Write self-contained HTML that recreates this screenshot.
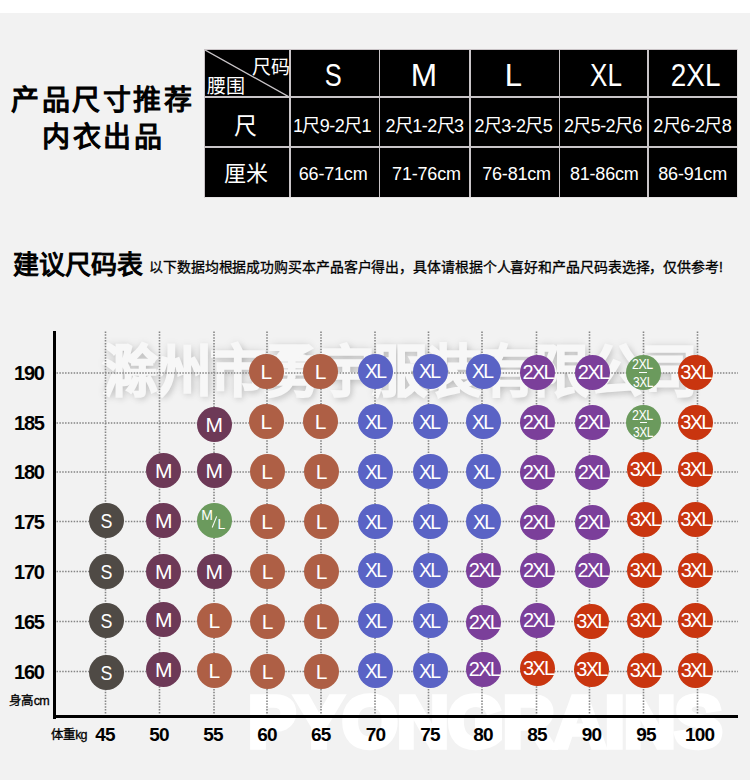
<!DOCTYPE html>
<html lang="zh-CN"><head><meta charset="utf-8">
<style>
*{margin:0;padding:0;box-sizing:border-box}
html,body{width:750px;height:780px;overflow:hidden}
body{position:relative;background:#f2f2f2;font-family:"Liberation Sans",sans-serif;color:#000}
.top{position:absolute;left:0;top:0;width:750px;height:13px;background:#fff}
.abs{position:absolute;white-space:nowrap}
.t1l{position:absolute;font-size:28px;font-weight:400;line-height:30px;letter-spacing:2.5px;white-space:nowrap;-webkit-text-stroke:1.2px #000}
.tbl{position:absolute;left:204px;top:49px;width:534px;height:149px;background:#000;border:1px solid #c9c3c6;border-right-color:#e6e3e4;border-bottom-color:#e6e3e4}
.tv{position:absolute;top:0;bottom:0;width:1.3px;background:#c9c5c8}
.th{position:absolute;left:0;right:0;height:1.3px;background:#c9c5c8}
.tc{position:absolute;color:#fff;text-align:center;white-space:nowrap}
.sz{top:2px;height:47px;line-height:47px;font-size:31px}
.sz span{display:inline-block}
.ch{top:51px;height:50px;line-height:50px;font-size:18px;letter-spacing:-0.6px}
.cmv{top:98.5px;height:50px;line-height:50px;font-size:18px;letter-spacing:-0.2px}
.hd1{position:absolute;color:#fff;font-size:19px;line-height:20px}
.sec{position:absolute;left:13px;top:250px;font-size:26px;font-weight:400;line-height:30px;white-space:nowrap;-webkit-text-stroke:1.1px #000}
.sub{position:absolute;left:149px;top:258px;font-size:13.9px;letter-spacing:-0.1px;line-height:18px;white-space:nowrap;-webkit-text-stroke:0.3px #000}
.yaxis{position:absolute;left:53px;top:331px;width:3px;height:388px;background:#000}
.xaxis{position:absolute;left:53px;top:715px;width:685px;height:3px;background:#000}
.grid line{stroke:#858585;stroke-width:1.6;stroke-dasharray:1.5 1.36}
.vg{position:absolute;top:331.5px;height:382px;width:1.8px;background:repeating-linear-gradient(to bottom,#8f8f8f 0,#8f8f8f 1.5px,transparent 1.5px,transparent 2.9px)}
.hg{position:absolute;left:56px;width:682px;height:1.8px;background:repeating-linear-gradient(to right,#8f8f8f 0,#8f8f8f 1.5px,transparent 1.5px,transparent 2.9px)}
.yl{position:absolute;left:0;width:43.8px;text-align:right;font-size:20px;font-weight:700;line-height:22px;letter-spacing:-1.2px}
.xl{position:absolute;top:724px;width:60px;text-align:center;font-size:19px;font-weight:700;line-height:22px;letter-spacing:-0.8px}
.c{position:absolute;width:35px;height:35px;border-radius:50%;color:#fff;text-align:center}
.c span{position:absolute;left:0;right:0;white-space:nowrap}
.t1{top:0px;line-height:35px;font-size:21px}
.ts{transform:scaleX(0.85)}
.t2{top:-0.3px;left:-1.5px!important;line-height:35px;font-size:21px;letter-spacing:-1.8px;transform:scaleX(0.92)}
.t3{top:0px;left:1px!important;line-height:35px;font-size:20px;letter-spacing:-1.7px}
.wm1{position:absolute;left:101.5px;top:331.5px;font-size:56px;line-height:80px;color:#f7f7f7;letter-spacing:-2px;white-space:nowrap;-webkit-text-stroke:3.5px #f7f7f7;text-shadow:0 0 10px rgba(0,0,0,0.2),2px 3px 7px rgba(0,0,0,0.22)}
.wm2{position:absolute;left:248px;top:677px;font-size:73px;font-weight:700;line-height:90px;color:#fff;white-space:nowrap;letter-spacing:-1px;-webkit-text-stroke:5.5px #fff;transform-origin:0 0;transform:scaleX(0.985)}
</style><style>
.c b{position:absolute;font-weight:400;white-space:nowrap;text-align:left}
.c .d1{left:6.3px;top:2.7px;font-size:14.5px;line-height:15px;letter-spacing:-0.6px;transform-origin:0 0;transform:scaleX(0.86)}
.c .dl{left:13.8px;top:17.2px;width:7.3px;height:1.2px;background:#fff}
.c .d2{left:7.2px;top:20.4px;font-size:14.5px;line-height:15px;letter-spacing:-0.6px;transform-origin:0 0;transform:scaleX(0.83)}
.c .m1{left:4.5px;top:5.5px;font-size:14px;line-height:14px}
.c .m2{left:17px;top:12.8px;width:1.2px;height:11.7px;background:#fff;transform:rotate(22deg)}
.c .m3{left:20.7px;top:14.7px;font-size:14px;line-height:14px}
</style></head><body>
<div class="top"></div>
<div class="t1l" style="left:11px;top:86px">产品尺寸推荐</div>
<div class="t1l" style="left:42px;top:123px">内衣出品</div>
<div class="tbl">
<svg style="position:absolute;left:0;top:0" width="86" height="48"><line x1="0" y1="0" x2="86" y2="48" stroke="#c9c5c8" stroke-width="1.3"/></svg>
<div class="tv" style="left:84.4px"></div>
<div class="tv" style="left:173.9px"></div>
<div class="tv" style="left:264.4px"></div>
<div class="tv" style="left:353.9px"></div>
<div class="tv" style="left:442.4px"></div>
<div class="th" style="top:46.4px"></div>
<div class="th" style="top:96.4px"></div>
<div class="tc sz" style="left:83.5px;width:89.5px"><span style="transform:scaleX(0.82)">S</span></div>
<div class="tc ch" style="left:82.2px;width:89.5px">1尺9-2尺1</div>
<div class="tc cmv" style="left:83.4px;width:89.5px">66-71cm</div>
<div class="tc sz" style="left:173.5px;width:90.5px"><span style="transform:scaleX(1.02)">M</span></div>
<div class="tc ch" style="left:174.2px;width:90.5px">2尺1-2尺3</div>
<div class="tc cmv" style="left:176.2px;width:90.5px">71-76cm</div>
<div class="tc sz" style="left:263.5px;width:89.5px"><span style="transform:scaleX(1)">L</span></div>
<div class="tc ch" style="left:263.6px;width:89.5px">2尺3-2尺5</div>
<div class="tc cmv" style="left:266.8px;width:89.5px">76-81cm</div>
<div class="tc sz" style="left:356.5px;width:88.5px"><span style="transform:scaleX(0.84)">XL</span></div>
<div class="tc ch" style="left:353.6px;width:88.5px">2尺5-2尺6</div>
<div class="tc cmv" style="left:355.0px;width:88.5px">81-86cm</div>
<div class="tc sz" style="left:446.0px;width:89.5px"><span style="transform:scaleX(0.9)">2XL</span></div>
<div class="tc ch" style="left:442.5px;width:89.5px">2尺6-2尺8</div>
<div class="tc cmv" style="left:442.9px;width:89.5px">86-91cm</div>
<div class="hd1" style="left:47px;top:8px">尺码</div>
<div class="hd1" style="left:2px;top:26.5px">腰围</div>
<div class="tc" style="left:-2.5px;width:86px;top:51px;height:50px;line-height:50px;font-size:23px">尺</div>
<div class="tc" style="left:-2px;width:86px;top:99px;height:50px;line-height:50px;font-size:22px">厘米</div>
</div>
<div class="sec">建议尺码表</div>
<div class="sub">以下数据均根据成功购买本产品客户得出，具体请根据个人喜好和产品尺码表选择，仅供参考!</div>
<div class="wm1">滁州市勇宇服装有限公司</div>
<div class="wm2">PYONGRAINS</div>
<svg class="grid" width="750" height="780" style="position:absolute;left:0;top:0"><line x1="105.50" y1="331.5" x2="105.50" y2="713.5" /><line x1="159.50" y1="331.5" x2="159.50" y2="713.5" /><line x1="214.00" y1="331.5" x2="214.00" y2="713.5" /><line x1="267.00" y1="331.5" x2="267.00" y2="713.5" /><line x1="321.00" y1="331.5" x2="321.00" y2="713.5" /><line x1="375.00" y1="331.5" x2="375.00" y2="713.5" /><line x1="428.50" y1="331.5" x2="428.50" y2="713.5" /><line x1="482.00" y1="331.5" x2="482.00" y2="713.5" /><line x1="536.50" y1="331.5" x2="536.50" y2="713.5" /><line x1="589.50" y1="331.5" x2="589.50" y2="713.5" /><line x1="643.50" y1="331.5" x2="643.50" y2="713.5" /><line x1="697.50" y1="331.5" x2="697.50" y2="713.5" /><line x1="56.5" y1="373.00" x2="738" y2="373.00" /><line x1="56.5" y1="423.00" x2="738" y2="423.00" /><line x1="56.5" y1="472.00" x2="738" y2="472.00" /><line x1="56.5" y1="521.50" x2="738" y2="521.50" /><line x1="56.5" y1="571.50" x2="738" y2="571.50" /><line x1="56.5" y1="621.50" x2="738" y2="621.50" /><line x1="56.5" y1="671.50" x2="738" y2="671.50" /></svg>
<div class="yaxis"></div>
<div class="xaxis"></div>
<div class="yl" style="top:362.0px">190</div>
<div class="yl" style="top:412.0px">185</div>
<div class="yl" style="top:461.0px">180</div>
<div class="yl" style="top:510.5px">175</div>
<div class="yl" style="top:560.5px">170</div>
<div class="yl" style="top:610.5px">165</div>
<div class="yl" style="top:660.5px">160</div>
<div class="abs" style="left:9.3px;top:692.5px;font-size:12.5px;line-height:16px;letter-spacing:-0.8px;-webkit-text-stroke:0.3px #000">身高cm</div>
<div class="abs" style="left:51px;top:727px;font-size:12.5px;line-height:16px;letter-spacing:-0.9px;-webkit-text-stroke:0.3px #000">体重kg</div>
<div class="xl" style="left:75.0px">45</div>
<div class="xl" style="left:129.0px">50</div>
<div class="xl" style="left:183.0px">55</div>
<div class="xl" style="left:237.0px">60</div>
<div class="xl" style="left:290.8px">65</div>
<div class="xl" style="left:345.5px">70</div>
<div class="xl" style="left:400.0px">75</div>
<div class="xl" style="left:453.0px">80</div>
<div class="xl" style="left:507.0px">85</div>
<div class="xl" style="left:561.5px">90</div>
<div class="xl" style="left:616.0px">95</div>
<div class="xl" style="left:669.7px">100</div>
<div class="c" style="left:248.9px;top:353.9px;background:#ae5f45"><span class="t1">L</span></div>
<div class="c" style="left:303.0px;top:353.7px;background:#ae5f45"><span class="t1">L</span></div>
<div class="c" style="left:358.2px;top:353.7px;background:#5a63c5"><span class="t2">XL</span></div>
<div class="c" style="left:412.8px;top:353.7px;background:#5a63c5"><span class="t2">XL</span></div>
<div class="c" style="left:465.7px;top:353.7px;background:#5a63c5"><span class="t2">XL</span></div>
<div class="c" style="left:519.8px;top:354.5px;background:#7b3f9a"><span class="t3">2XL</span></div>
<div class="c" style="left:575.0px;top:354.5px;background:#7b3f9a"><span class="t3">2XL</span></div>
<div class="c" style="left:625.6px;top:354.7px;background:#6b9a5d"><b class="d1">2XL</b><b class="dl"></b><b class="d2">3XL</b></div>
<div class="c" style="left:677.5px;top:354.9px;background:#c9350f"><span class="t3">3XL</span></div>
<div class="c" style="left:196.8px;top:406.8px;background:#6d3957"><span class="t1">M</span></div>
<div class="c" style="left:248.8px;top:404.2px;background:#ae5f45"><span class="t1">L</span></div>
<div class="c" style="left:303.0px;top:403.8px;background:#ae5f45"><span class="t1">L</span></div>
<div class="c" style="left:358.2px;top:403.8px;background:#5a63c5"><span class="t2">XL</span></div>
<div class="c" style="left:412.8px;top:403.8px;background:#5a63c5"><span class="t2">XL</span></div>
<div class="c" style="left:465.9px;top:404.4px;background:#5a63c5"><span class="t2">XL</span></div>
<div class="c" style="left:520.0px;top:405.2px;background:#7b3f9a"><span class="t3">2XL</span></div>
<div class="c" style="left:575.0px;top:405.2px;background:#7b3f9a"><span class="t3">2XL</span></div>
<div class="c" style="left:625.8px;top:405.0px;background:#6b9a5d"><b class="d1">2XL</b><b class="dl"></b><b class="d2">3XL</b></div>
<div class="c" style="left:677.5px;top:404.8px;background:#c9350f"><span class="t3">3XL</span></div>
<div class="c" style="left:146.2px;top:453.0px;background:#6d3957"><span class="t1">M</span></div>
<div class="c" style="left:196.8px;top:453.0px;background:#6d3957"><span class="t1">M</span></div>
<div class="c" style="left:249.6px;top:454.1px;background:#ae5f45"><span class="t1">L</span></div>
<div class="c" style="left:304.0px;top:454.0px;background:#ae5f45"><span class="t1">L</span></div>
<div class="c" style="left:358.2px;top:454.0px;background:#5a63c5"><span class="t2">XL</span></div>
<div class="c" style="left:412.8px;top:454.0px;background:#5a63c5"><span class="t2">XL</span></div>
<div class="c" style="left:466.0px;top:454.0px;background:#5a63c5"><span class="t2">XL</span></div>
<div class="c" style="left:519.9px;top:454.5px;background:#7b3f9a"><span class="t3">2XL</span></div>
<div class="c" style="left:575.0px;top:454.5px;background:#7b3f9a"><span class="t3">2XL</span></div>
<div class="c" style="left:626.9px;top:451.6px;background:#c9350f"><span class="t3">3XL</span></div>
<div class="c" style="left:677.5px;top:451.6px;background:#c9350f"><span class="t3">3XL</span></div>
<div class="c" style="left:88.8px;top:502.8px;background:#4f4a45"><span class="t1 ts">S</span></div>
<div class="c" style="left:146.2px;top:502.8px;background:#6d3957"><span class="t1">M</span></div>
<div class="c" style="left:196.8px;top:502.8px;background:#6b9a5d"><b class="m1">M</b><b class="m2"></b><b class="m3">L</b></div>
<div class="c" style="left:249.6px;top:503.7px;background:#ae5f45"><span class="t1">L</span></div>
<div class="c" style="left:304.0px;top:503.8px;background:#ae5f45"><span class="t1">L</span></div>
<div class="c" style="left:358.2px;top:503.8px;background:#5a63c5"><span class="t2">XL</span></div>
<div class="c" style="left:412.8px;top:503.8px;background:#5a63c5"><span class="t2">XL</span></div>
<div class="c" style="left:466.0px;top:503.8px;background:#5a63c5"><span class="t2">XL</span></div>
<div class="c" style="left:519.9px;top:504.6px;background:#7b3f9a"><span class="t3">2XL</span></div>
<div class="c" style="left:575.0px;top:504.6px;background:#7b3f9a"><span class="t3">2XL</span></div>
<div class="c" style="left:626.9px;top:501.7px;background:#c9350f"><span class="t3">3XL</span></div>
<div class="c" style="left:677.5px;top:501.7px;background:#c9350f"><span class="t3">3XL</span></div>
<div class="c" style="left:88.8px;top:554.2px;background:#4f4a45"><span class="t1 ts">S</span></div>
<div class="c" style="left:146.2px;top:554.2px;background:#6d3957"><span class="t1">M</span></div>
<div class="c" style="left:196.8px;top:554.2px;background:#6d3957"><span class="t1">M</span></div>
<div class="c" style="left:250.1px;top:554.2px;background:#ae5f45"><span class="t1">L</span></div>
<div class="c" style="left:304.1px;top:554.1px;background:#ae5f45"><span class="t1">L</span></div>
<div class="c" style="left:358.1px;top:552.6px;background:#5a63c5"><span class="t2">XL</span></div>
<div class="c" style="left:412.9px;top:552.6px;background:#5a63c5"><span class="t2">XL</span></div>
<div class="c" style="left:466.0px;top:552.8px;background:#7b3f9a"><span class="t3">2XL</span></div>
<div class="c" style="left:520.2px;top:552.8px;background:#7b3f9a"><span class="t3">2XL</span></div>
<div class="c" style="left:574.8px;top:552.8px;background:#7b3f9a"><span class="t3">2XL</span></div>
<div class="c" style="left:627.1px;top:552.7px;background:#c9350f"><span class="t3">3XL</span></div>
<div class="c" style="left:677.9px;top:552.7px;background:#c9350f"><span class="t3">3XL</span></div>
<div class="c" style="left:88.8px;top:603.0px;background:#4f4a45"><span class="t1 ts">S</span></div>
<div class="c" style="left:146.2px;top:602.2px;background:#6d3957"><span class="t1">M</span></div>
<div class="c" style="left:196.8px;top:603.0px;background:#ae5f45"><span class="t1">L</span></div>
<div class="c" style="left:250.1px;top:604.0px;background:#ae5f45"><span class="t1">L</span></div>
<div class="c" style="left:304.1px;top:603.8px;background:#ae5f45"><span class="t1">L</span></div>
<div class="c" style="left:358.1px;top:603.1px;background:#5a63c5"><span class="t2">XL</span></div>
<div class="c" style="left:412.9px;top:603.1px;background:#5a63c5"><span class="t2">XL</span></div>
<div class="c" style="left:466.0px;top:604.8px;background:#7b3f9a"><span class="t3">2XL</span></div>
<div class="c" style="left:520.2px;top:603.0px;background:#7b3f9a"><span class="t3">2XL</span></div>
<div class="c" style="left:573.5px;top:604.0px;background:#c9350f"><span class="t3">3XL</span></div>
<div class="c" style="left:627.1px;top:602.7px;background:#c9350f"><span class="t3">3XL</span></div>
<div class="c" style="left:677.9px;top:602.7px;background:#c9350f"><span class="t3">3XL</span></div>
<div class="c" style="left:88.8px;top:654.7px;background:#4f4a45"><span class="t1 ts">S</span></div>
<div class="c" style="left:146.2px;top:651.5px;background:#6d3957"><span class="t1">M</span></div>
<div class="c" style="left:196.8px;top:652.8px;background:#ae5f45"><span class="t1">L</span></div>
<div class="c" style="left:250.1px;top:653.7px;background:#ae5f45"><span class="t1">L</span></div>
<div class="c" style="left:304.1px;top:653.9px;background:#ae5f45"><span class="t1">L</span></div>
<div class="c" style="left:358.1px;top:652.8px;background:#5a63c5"><span class="t2">XL</span></div>
<div class="c" style="left:412.9px;top:652.8px;background:#5a63c5"><span class="t2">XL</span></div>
<div class="c" style="left:466.0px;top:651.5px;background:#7b3f9a"><span class="t3">2XL</span></div>
<div class="c" style="left:520.2px;top:651.0px;background:#c9350f"><span class="t3">3XL</span></div>
<div class="c" style="left:573.5px;top:651.5px;background:#c9350f"><span class="t3">3XL</span></div>
<div class="c" style="left:627.1px;top:652.8px;background:#c9350f"><span class="t3">3XL</span></div>
<div class="c" style="left:677.9px;top:652.8px;background:#c9350f"><span class="t3">3XL</span></div>
</body></html>
